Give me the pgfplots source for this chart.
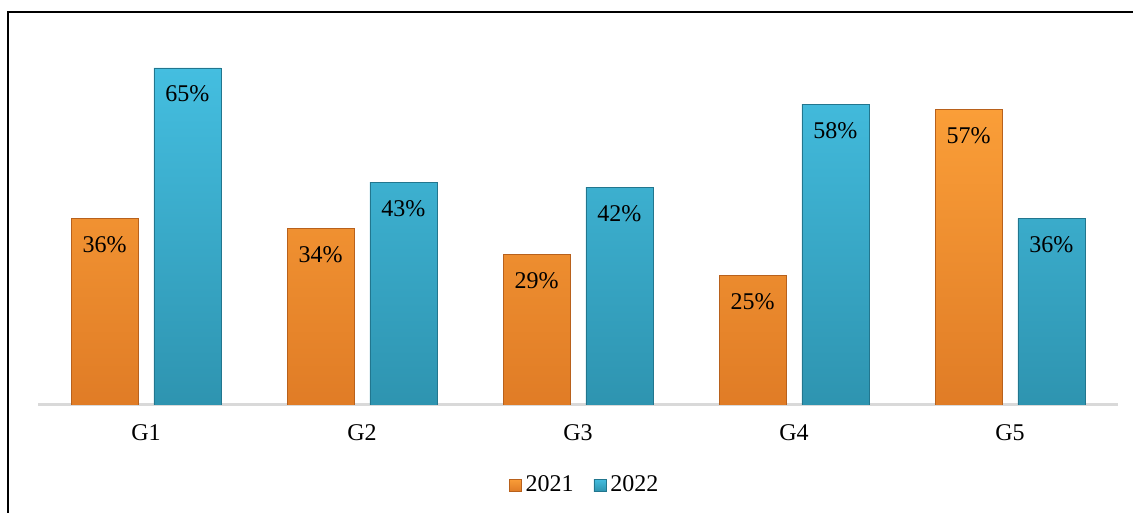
\documentclass[border=0pt]{standalone}
\usepackage{pgfplots}
\pgfplotsset{compat=1.18}
\usepackage{fontspec}
\setmainfont{Liberation Serif}
\definecolor{orTop}{HTML}{FA9E38}
\definecolor{orBot}{HTML}{E07C26}
\definecolor{orDr}{HTML}{B8611C}
\definecolor{blTop}{HTML}{44BEE0}
\definecolor{blBot}{HTML}{2E94B0}
\definecolor{blDr}{HTML}{22768E}
\begin{document}
\begin{tikzpicture}
\path[use as bounding box] (0,0) rectangle (566.5pt,256.5pt);
\draw[black, line width=1pt] (4pt,0) -- (4pt,250.5pt) -- (566.5pt,250.5pt);
\begin{axis}[
  at={(19pt,54pt)}, anchor=south west,
  scale only axis, width=540pt, height=181.5pt,
  xmin=-0.5, xmax=4.5, ymin=0, ymax=70,
  ybar, bar width=0.31,
  axis x line=bottom, axis y line=none,
  x axis line style={-, draw=black!15, line width=1.5pt},
  xtick={0,1,2,3,4}, xticklabels={G1,G2,G3,G4,G5},
  major tick length=0pt,
  /pgf/number format/assume math mode=true,
  xticklabel style={font=\fontsize{12}{14}\selectfont, yshift=-6.5pt},
  nodes near coords={\pgfmathprintnumber{\pgfplotspointmeta}\%},
  nodes near coords style={font=\fontsize{12}{14}\selectfont, anchor=north, yshift=-5.5pt, text=black},
  legend style={at={(0.507,0)}, anchor=center, yshift=-40pt, draw=none, legend columns=2,
     font=\fontsize{12}{14}\selectfont, /tikz/every even column/.append style={column sep=8pt}},
  legend image code/.code={\draw[#1] (0pt,-3pt) rectangle (6pt,3pt);},
]
\addplot[bar shift=-0.192, draw=orDr, top color=orTop, bottom color=orBot, line width=0.4pt]
  coordinates {(0,36) (1,34) (2,29) (3,25) (4,57)};
\addplot[bar shift=0.192, draw=blDr, top color=blTop, bottom color=blBot, line width=0.4pt]
  coordinates {(0,65) (1,43) (2,42) (3,58) (4,36)};
\legend{2021,2022}
\end{axis}
\end{tikzpicture}
\end{document}
